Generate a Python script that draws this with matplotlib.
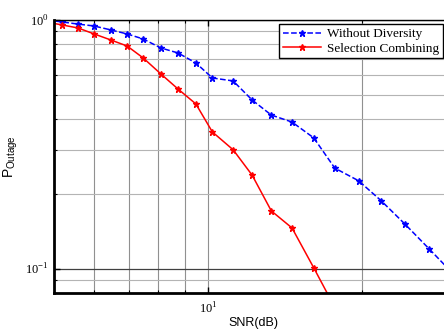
import matplotlib
matplotlib.use("Agg")
import matplotlib.pyplot as plt
from matplotlib.ticker import LogLocator, NullFormatter, FixedLocator, FixedFormatter

plt.rcParams["mathtext.fontset"] = "custom"
plt.rcParams["mathtext.rm"] = "Liberation Serif"
plt.rcParams["mathtext.sf"] = "Liberation Sans"

# SNR (dB)
snr = [4.85, 5.19, 5.57, 5.99, 6.46, 6.95, 7.47, 8.09, 8.74, 9.47, 10.2,
       11.2, 12.2, 13.3, 14.6, 16.1, 17.7, 19.7, 21.8, 24.3, 27.1, 29.8]

p_without = [1.0, 0.982, 0.963, 0.946, 0.912, 0.879, 0.839, 0.772, 0.737, 0.672, 0.585,
             0.569, 0.477, 0.415, 0.389, 0.336, 0.254, 0.226, 0.188, 0.151, 0.120, 0.098]

snr_sc = snr[:17]
p_selection = [0.98, 0.955, 0.929, 0.879, 0.831, 0.786, 0.704, 0.607, 0.528, 0.460, 0.355,
               0.301, 0.238, 0.171, 0.146, 0.101, 0.070]

fig = plt.figure(figsize=(4.44, 3.29), dpi=100)
ax = fig.add_axes([54 / 444, 36 / 329, 398 / 444, 273 / 329])

ax.plot(snr, p_without, "--", color="#0000ff", lw=1.1, marker="*", ms=5,
        label="Without Diversity")
ax.plot(snr_sc, p_selection, "-", color="#ff0000", lw=1.1, marker="*", ms=5,
        label="Selection Combining")

ax.set_xscale("log")
ax.set_yscale("log")
ax.set_xlim(5, 30)
ax.set_ylim(0.08, 1)

ax.xaxis.set_major_locator(FixedLocator([10]))
ax.xaxis.set_major_formatter(FixedFormatter([r"$10^1$"]))
ax.xaxis.set_minor_locator(FixedLocator([5, 6, 7, 8, 9, 20, 30]))
ax.xaxis.set_minor_formatter(NullFormatter())
ax.yaxis.set_major_locator(FixedLocator([0.1, 1]))
ax.yaxis.set_major_formatter(FixedFormatter([r"$10^{-1}$", r"$10^0$"]))
ax.yaxis.set_minor_locator(LogLocator(base=10, subs=range(2, 10)))
ax.yaxis.set_minor_formatter(NullFormatter())

ax.grid(True, which="minor", axis="y", color="#b4b4b4", lw=0.8)
ax.grid(True, which="major", axis="y", color="#404040", lw=0.9)
ax.grid(True, which="both", axis="x", color="#909090", lw=0.8)
ax.set_axisbelow(True)

ax.tick_params(which="both", direction="in", top=True, right=True, labelsize=9,
               color="black")
ax.tick_params(which="major", length=4, width=1)
ax.tick_params(which="minor", length=2.5, width=0.8)
ax.tick_params(axis="x", pad=6)
ax.tick_params(axis="y", pad=4)

for side in ["left", "bottom"]:
    ax.spines[side].set_linewidth(2)
ax.spines["top"].set_linewidth(1)

ax.set_xlabel("SNR(dB)", family="Liberation Sans", fontsize=9, labelpad=0)
ax.set_ylabel(r"$\mathsf{P}_{\mathsf{Outage}}$", fontsize=10)
ax.yaxis.set_label_coords(-0.085, 0.5)

leg = ax.legend(loc="upper right", bbox_to_anchor=(0.977, 0.985), borderaxespad=0,
                prop={"family": "Liberation Serif", "size": 9.5}, fancybox=False,
                framealpha=1, edgecolor="black", handlelength=2.9, borderpad=0.3,
                labelspacing=0.15, handletextpad=0.4)
leg.get_frame().set_linewidth(1)

fig.savefig("out.png", dpi=100)
